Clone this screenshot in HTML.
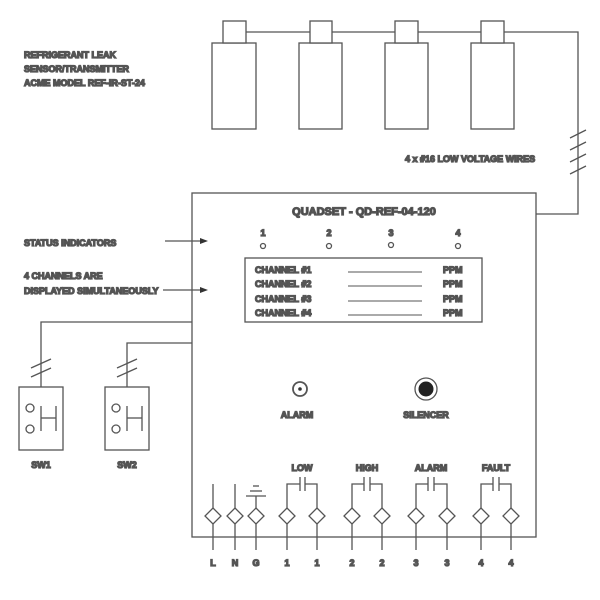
<!DOCTYPE html>
<html><head><style>
body{margin:0;background:#fff;}
svg{display:block;}
text{font-family:"Liberation Sans",sans-serif;font-weight:bold;fill:#333;font-size:9px;}
</style></head><body>
<svg width="600" height="600" viewBox="0 0 600 600" stroke="#555" stroke-width="1.3" fill="none">
<!-- sensors -->
<g fill="#fff">
<rect x="212" y="43" width="44" height="86"/><rect x="223" y="21" width="23" height="22"/>
<rect x="299" y="43" width="43" height="86"/><rect x="310" y="21" width="22" height="22"/>
<rect x="385" y="43" width="43" height="86"/><rect x="395" y="21" width="23" height="22"/>
<rect x="471" y="43" width="43" height="86"/><rect x="481" y="21" width="23" height="22"/>
</g>
<polyline points="246,32 310,32"/><polyline points="332,32 395,32"/><polyline points="418,32 481,32"/>
<polyline points="504,32 578,32 578,214 536,214"/>
<g><line x1="570" y1="138" x2="586" y2="130"/><line x1="570" y1="150" x2="586" y2="142"/><line x1="570" y1="162" x2="586" y2="154"/><line x1="570" y1="174" x2="586" y2="166"/></g>
<text x="405" y="162">4 x #16 LOW VOLTAGE WIRES</text>
<text x="24" y="58">REFRIGERANT LEAK</text>
<text x="24" y="72">SENSOR/TRANSMITTER</text>
<text x="24" y="86">ACME MODEL REF-IR-ST-24</text>
<!-- main box -->
<rect x="192" y="193" width="344" height="344"/>
<text x="364" y="215" text-anchor="middle" style="font-size:11px">QUADSET - QD-REF-04-120</text>
<text x="263" y="236" text-anchor="middle">1</text><text x="329" y="236" text-anchor="middle">2</text><text x="391" y="236" text-anchor="middle">3</text><text x="458" y="236" text-anchor="middle">4</text>
<circle cx="263" cy="246" r="2.5"/><circle cx="329" cy="246" r="2.5"/><circle cx="391" cy="245" r="2.5"/><circle cx="458" cy="246" r="2.5"/>
<rect x="245" y="258" width="237" height="64"/>
<text x="255" y="273">CHANNEL #1</text><text x="255" y="287">CHANNEL #2</text><text x="255" y="302">CHANNEL #3</text><text x="255" y="316">CHANNEL #4</text>
<text x="443" y="273">PPM</text><text x="443" y="287">PPM</text><text x="443" y="302">PPM</text><text x="443" y="316">PPM</text>
<g stroke-width="1"><line x1="348" y1="272" x2="422" y2="272"/><line x1="348" y1="286" x2="422" y2="286"/><line x1="348" y1="301" x2="422" y2="301"/><line x1="348" y1="315" x2="422" y2="315"/></g>
<circle cx="300" cy="389" r="7" stroke-width="1.8"/><circle cx="300" cy="389" r="1.8" fill="#333" stroke="none"/>
<circle cx="426" cy="389" r="11"/><circle cx="426" cy="389" r="7.5" fill="#222" stroke="none"/>
<text x="297" y="418" text-anchor="middle">ALARM</text><text x="426" y="418" text-anchor="middle">SILENCER</text>
<!-- arrows -->
<text x="24" y="246">STATUS INDICATORS</text>
<text x="24" y="279">4 CHANNELS ARE</text>
<text x="24" y="294">DISPLAYED SIMULTANEOUSLY</text>
<line x1="165" y1="241" x2="202" y2="241"/><polygon points="208,241 200,238 200,244" fill="#333" stroke="none"/>
<line x1="163" y1="290" x2="202" y2="290"/><polygon points="208,290 200,287 200,293" fill="#333" stroke="none"/>
<!-- switches -->
<polyline points="192,322 41,322 41,387"/><polyline points="192,343 127,343 127,387"/>
<line x1="31" y1="368" x2="51" y2="359"/><line x1="31" y1="377" x2="51" y2="368"/>
<line x1="117" y1="368" x2="137" y2="359"/><line x1="117" y1="377" x2="137" y2="368"/>
<rect x="19" y="387" width="44" height="63"/><rect x="105" y="387" width="44" height="63"/>
<circle cx="30" cy="408" r="4"/><circle cx="30" cy="429" r="4"/><line x1="41" y1="406" x2="41" y2="431"/><line x1="41" y1="418" x2="56" y2="418"/><line x1="56" y1="406" x2="56" y2="431"/>
<circle cx="116" cy="408" r="4"/><circle cx="116" cy="429" r="4"/><line x1="127" y1="406" x2="127" y2="431"/><line x1="127" y1="418" x2="142" y2="418"/><line x1="142" y1="406" x2="142" y2="431"/>
<text x="41" y="468" text-anchor="middle">SW1</text><text x="127" y="468" text-anchor="middle">SW2</text>
<!-- terminals -->
<g>
<line x1="213" y1="484" x2="213" y2="550"/><line x1="235" y1="484" x2="235" y2="550"/><line x1="256" y1="496" x2="256" y2="550"/>
<line x1="246" y1="496" x2="266" y2="496"/><line x1="250" y1="491" x2="262" y2="491"/><line x1="253" y1="486" x2="259" y2="486"/>
<polyline points="287,550 287,484 300,484"/><polyline points="305,484 317,484 317,550"/><line x1="300" y1="477" x2="300" y2="491"/><line x1="305" y1="477" x2="305" y2="491"/>
<polyline points="352,550 352,484 364,484"/><polyline points="370,484 382,484 382,550"/><line x1="364" y1="477" x2="364" y2="491"/><line x1="370" y1="477" x2="370" y2="491"/>
<polyline points="416,550 416,484 428,484"/><polyline points="434,484 447,484 447,550"/><line x1="428" y1="477" x2="428" y2="491"/><line x1="434" y1="477" x2="434" y2="491"/>
<polyline points="481,550 481,484 493,484"/><polyline points="499,484 511,484 511,550"/><line x1="493" y1="477" x2="493" y2="491"/><line x1="499" y1="477" x2="499" y2="491"/>
</g>
<g fill="#fff">
<polygon points="213,508 221,516 213,524 205,516"/><polygon points="235,508 243,516 235,524 227,516"/><polygon points="256,508 264,516 256,524 248,516"/>
<polygon points="287,508 295,516 287,524 279,516"/><polygon points="317,508 325,516 317,524 309,516"/>
<polygon points="352,508 360,516 352,524 344,516"/><polygon points="382,508 390,516 382,524 374,516"/>
<polygon points="416,508 424,516 416,524 408,516"/><polygon points="447,508 455,516 447,524 439,516"/>
<polygon points="481,508 489,516 481,524 473,516"/><polygon points="511,508 519,516 511,524 503,516"/>
</g>
<text x="302" y="471" text-anchor="middle">LOW</text><text x="367" y="471" text-anchor="middle">HIGH</text><text x="431" y="471" text-anchor="middle">ALARM</text><text x="496" y="471" text-anchor="middle">FAULT</text>
<g text-anchor="middle">
<text x="213" y="566">L</text><text x="235" y="566">N</text><text x="256" y="566">G</text><text x="287" y="566">1</text><text x="317" y="566">1</text><text x="352" y="566">2</text><text x="382" y="566">2</text><text x="416" y="566">3</text><text x="447" y="566">3</text><text x="481" y="566">4</text><text x="511" y="566">4</text>
</g>
</svg>
</body></html>
